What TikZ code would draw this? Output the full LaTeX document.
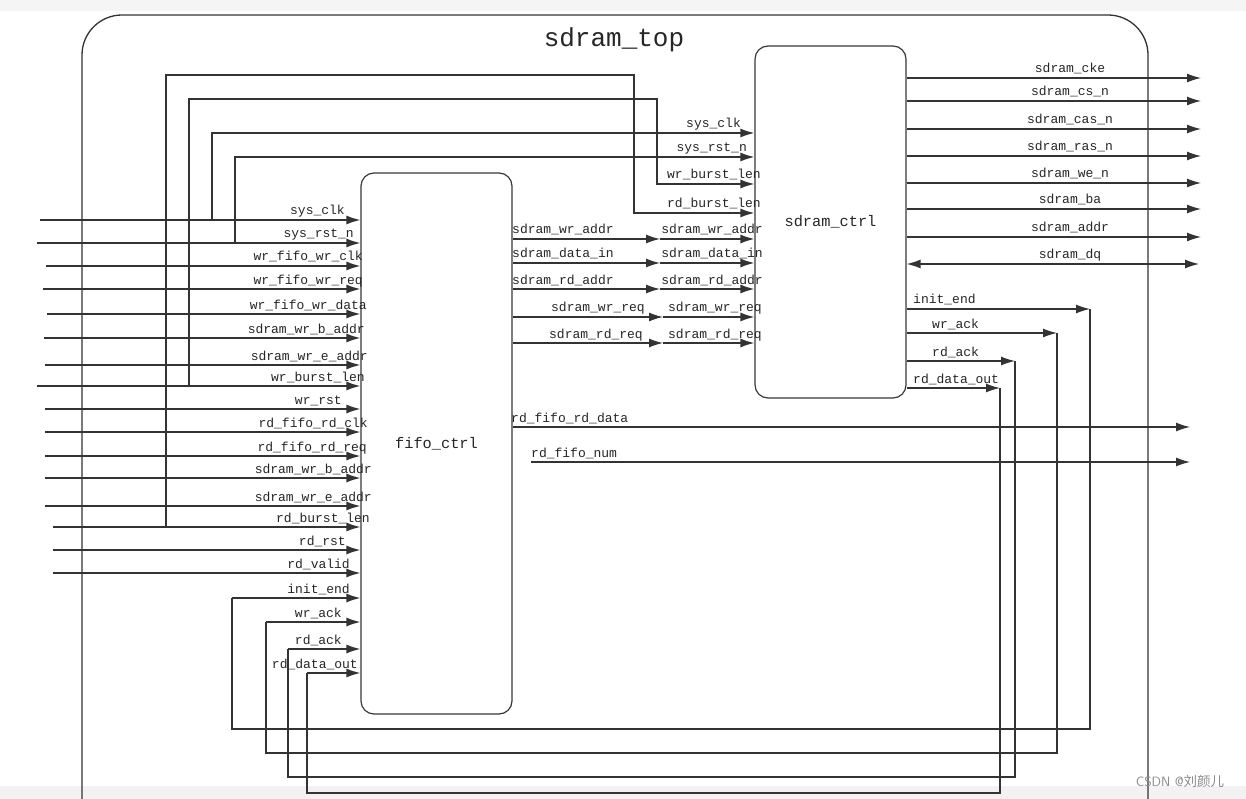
\documentclass[tikz,border=0pt]{standalone}
\usepackage{fontspec}
\setmonofont{Liberation Mono}
\newfontfamily\cjk{Noto Sans CJK SC}
\usetikzlibrary{arrows.meta}
\begin{document}
\begin{tikzpicture}[x=1pt,y=-1pt,
  sig/.style={draw=black!80, line width=1.3pt},
  arr/.style={sig, -{Latex[length=14pt,width=9pt]}},
  darr/.style={sig, {Latex[length=14pt,width=9pt]}-{Latex[length=14pt,width=9pt]}},
  lbl/.style={inner sep=0pt, text=black!85, font=\ttfamily\fontsize{13}{15}\selectfont},
  block/.style={draw=black!78, line width=1.2pt, rounded corners=13pt, fill=white,
     font=\ttfamily\fontsize{15.3}{18}\selectfont, text=black!85}]
\useasboundingbox (0,0) rectangle (1246,799);
\fill[white] (0,0) rectangle (1246,799);
\fill[black!4] (0,0) rectangle (1246,11);
\fill[black!5] (0,786) rectangle (1246,799);
% outer module
\draw[sig, rounded corners=40pt] (82,799) -- (82,15) -- (1148,15) -- (1148,799);
\node[lbl, font=\ttfamily\fontsize{26}{30}\selectfont, anchor=center] (title) at (614,40) {sdram\_top};
% blocks
\node[block, minimum width=151pt, minimum height=541pt] (fifo) at (436.5,443.5) {fifo\_ctrl};
\node[block, minimum width=151pt, minimum height=352pt] (sd) at (830.5,222) {sdram\_ctrl};
% left inputs of fifo_ctrl
\foreach \n/\y/\xs/\xe/\t in {
 1/220/40/345/sys\_clk,
 2/243/37/354/sys\_rst\_n,
 3/266/46/363/wr\_fifo\_wr\_clk,
 4/289/43/363/wr\_fifo\_wr\_req,
 5/314/47/367/wr\_fifo\_wr\_data,
 6/338/44/365/sdram\_wr\_b\_addr,
 7/365/45/368/sdram\_wr\_e\_addr,
 8/386/37/365/wr\_burst\_len,
 9/409/45/342/wr\_rst,
 10/432/45/368/rd\_fifo\_rd\_clk,
 11/456/45/367/rd\_fifo\_rd\_req,
 12/478/45/372/sdram\_wr\_b\_addr,
 13/506/45/372/sdram\_wr\_e\_addr,
 14/527/53/370/rd\_burst\_len,
 15/550/53/346/rd\_rst,
 16/573/53/350/rd\_valid,
 17/598/232/350/init\_end,
 18/622/266/342/wr\_ack,
 19/649/288/342/rd\_ack,
 20/673/307/358/rd\_data\_out}{
  \coordinate (in\n) at (\xs,\y);
  \draw[arr] (in\n) -- (in\n -| fifo.west);
  \node[lbl, anchor=base east] (lin\n) at (\xe,\y-5) {\t};
}
% feed lines to sdram_ctrl
\coordinate (j1) at (212,220);
\coordinate (j2) at (235,243);
\coordinate (j8) at (189,386);
\coordinate (j14) at (166,527);
\coordinate (k8) at (657,99);
\coordinate (k14) at (634,75);
\draw[arr] (j14) |- (k14) |- (sd.west |- 0,213);
\draw[arr] (j8) |- (k8) |- (sd.west |- 0,184);
\draw[arr] (j1) |- (sd.west |- 0,133);
\draw[arr] (j2) |- (sd.west |- 0,157);
\node[lbl, anchor=base east] (ls1) at (741,128) {sys\_clk};
\node[lbl, anchor=base east] (ls2) at (747,152) {sys\_rst\_n};
\node[lbl, anchor=base east] (ls3) at (761,179) {wr\_burst\_len};
\node[lbl, anchor=base east] (ls4) at (761,208) {rd\_burst\_len};
% fifo_ctrl -> sdram_ctrl
\foreach \n/\y/\xm in {1/239/660, 2/263/660, 3/289/660, 4/317/663, 5/343/663}{
  \coordinate (m\n) at (\xm,\y);
  \draw[arr] (fifo.east |- m\n) -- (m\n);
  \draw[arr] (m\n) -- (sd.west |- m\n);
}
\node[lbl, anchor=base west] (lm1) at (512,234) {sdram\_wr\_addr};
\node[lbl, anchor=base west] (lm2) at (512,258) {sdram\_data\_in};
\node[lbl, anchor=base west] (lm3) at (512,284) {sdram\_rd\_addr};
\node[lbl, anchor=base east] (lm4) at (645,312) {sdram\_wr\_req};
\node[lbl, anchor=base east] (lm5) at (643,338) {sdram\_rd\_req};
\node[lbl, anchor=base east] (rm1) at (763,234) {sdram\_wr\_addr};
\node[lbl, anchor=base east] (rm2) at (763,258) {sdram\_data\_in};
\node[lbl, anchor=base east] (rm3) at (763,284) {sdram\_rd\_addr};
\node[lbl, anchor=base east] (rm4) at (762,312) {sdram\_wr\_req};
\node[lbl, anchor=base east] (rm5) at (762,338) {sdram\_rd\_req};
% sdram_ctrl outputs
\foreach \n/\y/\t in {1/78/sdram\_cke, 2/101/sdram\_cs\_n, 3/129/sdram\_cas\_n,
  4/156/sdram\_ras\_n, 5/183/sdram\_we\_n, 6/209/sdram\_ba, 7/237/sdram\_addr}{
  \coordinate (o\n) at (1201,\y);
  \draw[arr] (sd.east |- o\n) -- (o\n);
  \node[lbl, anchor=base] (lo\n) at (1070,\y-5) {\t};
}
\coordinate (o8) at (1199,264);
\draw[darr] (sd.east |- o8) -- (o8);
\node[lbl, anchor=base] (lo8) at (1070,259) {sdram\_dq};
% feedback signals sdram_ctrl -> fifo_ctrl
\coordinate (c17) at (1090,309);
\coordinate (c18) at (1057,333);
\coordinate (c19) at (1015,361);
\coordinate (c20) at (1000,388);
\draw[arr] (sd.east |- c17) -- (c17);
\draw[arr] (sd.east |- c18) -- (c18);
\draw[arr] (sd.east |- c19) -- (c19);
\draw[arr] (sd.east |- c20) -- (c20);
\node[lbl, anchor=base west] (lc17) at (913,304) {init\_end};
\node[lbl, anchor=base west] (lc18) at (932,328) {wr\_ack};
\node[lbl, anchor=base west] (lc19) at (932,356) {rd\_ack};
\node[lbl, anchor=base west] (lc20) at (913,383) {rd\_data\_out};
\draw[sig] (c17) -- (1090,729) -| (in17);
\draw[sig] (c18) -- (1057,753) -| (in18);
\draw[sig] (c19) -- (1015,777) -| (in19);
\draw[sig] (c20) -- (1000,793) -| (in20);
% fifo_ctrl outputs
\coordinate (r1) at (1190,427);
\coordinate (r2s) at (531,462);
\coordinate (r2) at (1190,462);
\draw[arr] (fifo.east |- r1) -- (r1);
\draw[arr] (r2s) -- (r2);
\node[lbl, anchor=base west] (lr1) at (511,422) {rd\_fifo\_rd\_data};
\node[lbl, anchor=base west] (lr2) at (531,457) {rd\_fifo\_num};
% watermark
\node[inner sep=0pt, text=black!45, font=\sffamily\fontsize{13.5}{16}\selectfont, anchor=center] (wm) at (1180,781) {CSDN @{\cjk 刘颜儿}};
\end{tikzpicture}
\end{document}
